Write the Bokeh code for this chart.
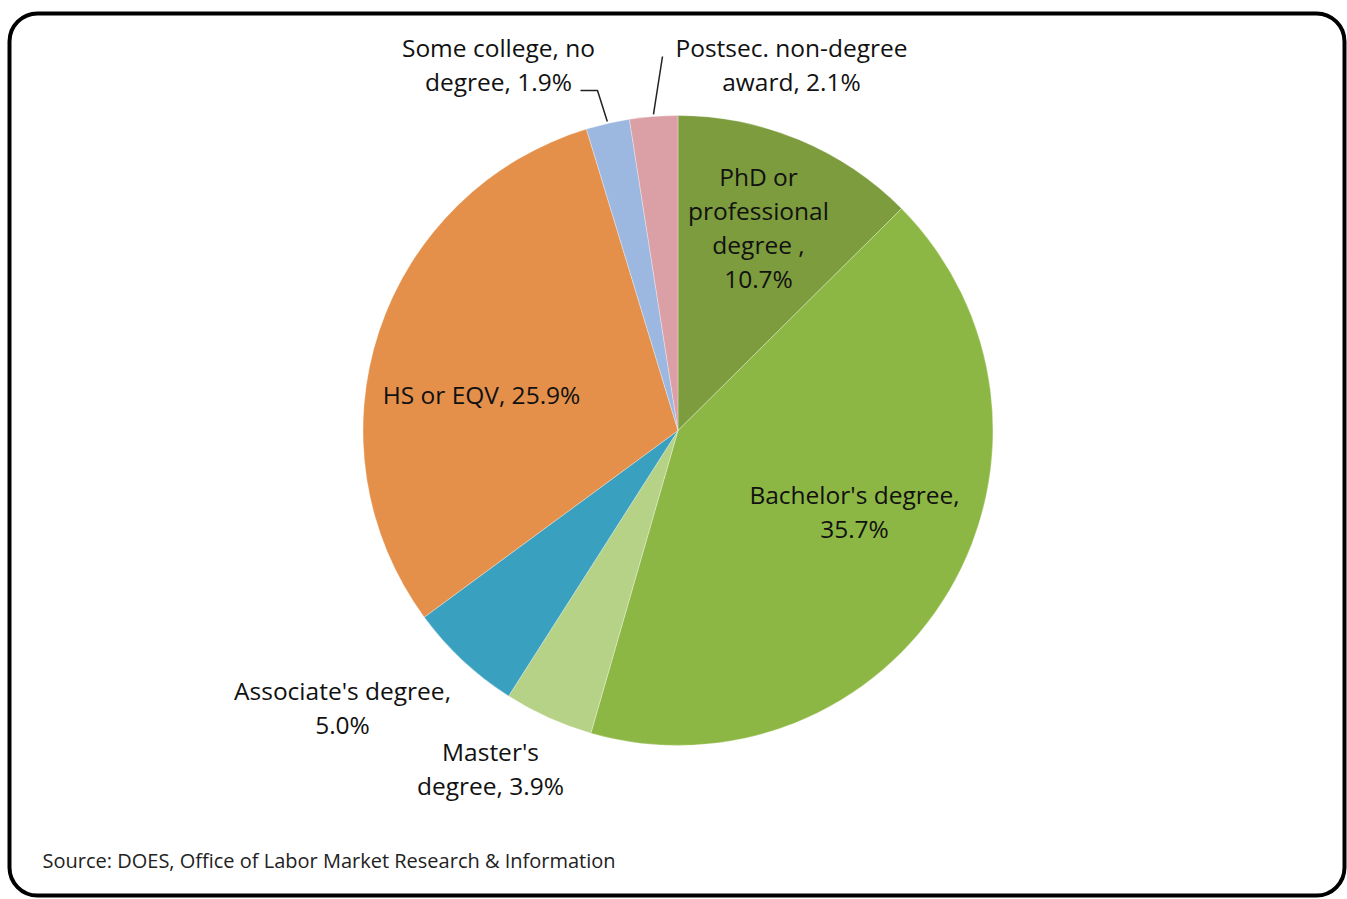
import math
from bokeh.plotting import figure
from bokeh.models import Range1d, BoxAnnotation, ColumnDataSource
from bokeh.core.properties import value
from bokeh.embed import file_html
from bokeh.resources import INLINE

# ---- data ----
categories = ["PhD or professional degree", "Bachelor's degree", "Master's degree",
              "Associate's degree", "HS or EQV", "Some college, no degree",
              "Postsec. non-degree award"]
shares = [10.7, 35.7, 3.9, 5.0, 25.9, 1.9, 2.1]
label_lines = [
    ["PhD or", "professional", "degree ,", "10.7%"],
    ["Bachelor's degree,", "35.7%"],
    ["Master's", "degree, 3.9%"],
    ["Associate's degree,", "5.0%"],
    ["HS or EQV, 25.9%"],
    ["Some college, no", "degree, 1.9%"],
    ["Postsec. non-degree", "award, 2.1%"],
]
colors = ["#7C9C3D", "#8DB744", "#B6D286", "#3AA0BF", "#E4904B", "#9DB8E0", "#DBA0A6"]
source_note = "Source: DOES, Office of Labor Market Research & Information"

# ---- layout (pixel space, y measured downward from top of image) ----
W, H = 1347, 899
CX, CY, R = 677.5, 430, 315
# label centre (first line) positions in image pixels
label_pos = [(758, 176), (854, 494), (490, 751), (342, 690), (481, 394), (498, 47), (791, 47)]
LINE_H = 34
FONT = "Open Sans"
FS = "24.5px"

p = figure(width=W, height=H, output_backend="svg", toolbar_location=None,
           x_range=Range1d(0, W), y_range=Range1d(0, H), min_border=0)
p.axis.visible = False
p.grid.visible = False
p.outline_line_color = None
p.background_fill_color = "white"
p.border_fill_color = "white"

def Y(y):
    return H - y

total = sum(shares)
starts, ends = [], []
cum = 0.0
for s in shares:
    starts.append(math.pi / 2 - cum / total * 2 * math.pi)
    cum += s
    ends.append(math.pi / 2 - cum / total * 2 * math.pi)

src = ColumnDataSource(dict(x=[CX] * len(shares), y=[Y(CY)] * len(shares),
                            start=starts, end=ends, color=colors, cat=categories))
p.wedge(x="x", y="y", radius=R, start_angle="start", end_angle="end",
        direction="clock", fill_color="color", line_color="white", line_width=0.6,
        line_alpha=0.5, source=src)

# labels
tx, ty, tt = [], [], []
for (lx, ly), lines in zip(label_pos, label_lines):
    for i, ln in enumerate(lines):
        tx.append(lx)
        ty.append(Y(ly + i * LINE_H))
        tt.append(ln)
p.text(x=tx, y=ty, text=tt, text_font=value(FONT), text_font_size=FS,
       text_align="center", text_baseline="middle", text_color="#111111")

# leader lines for the two small slices (to slice mid-angle on the rim)
def rim(idx, rr=R):
    mid = (starts[idx] + ends[idx]) / 2
    return CX + rr * math.cos(mid), Y(CY) + rr * math.sin(mid)

ex, ey = rim(5, R + 2)
p.line(x=[580, 597, ex], y=[Y(90), Y(90), ey], line_color="#222222", line_width=1.5)
ex, ey = rim(6, R + 2)
p.line(x=[662, ex], y=[Y(56), ey], line_color="#222222", line_width=1.5)

# source note
p.text(x=[42], y=[Y(860)], text=[source_note], text_font=value(FONT), text_font_size="20px",
       text_align="left", text_baseline="middle", text_color="#222222")

# rounded frame
p.add_layout(BoxAnnotation(left=9, right=1344, bottom=Y(895), top=Y(13),
                           fill_alpha=0, line_color="black", line_alpha=1.0, line_width=4,
                           border_radius=28))

open("out.html", "w").write(file_html(p, INLINE))
